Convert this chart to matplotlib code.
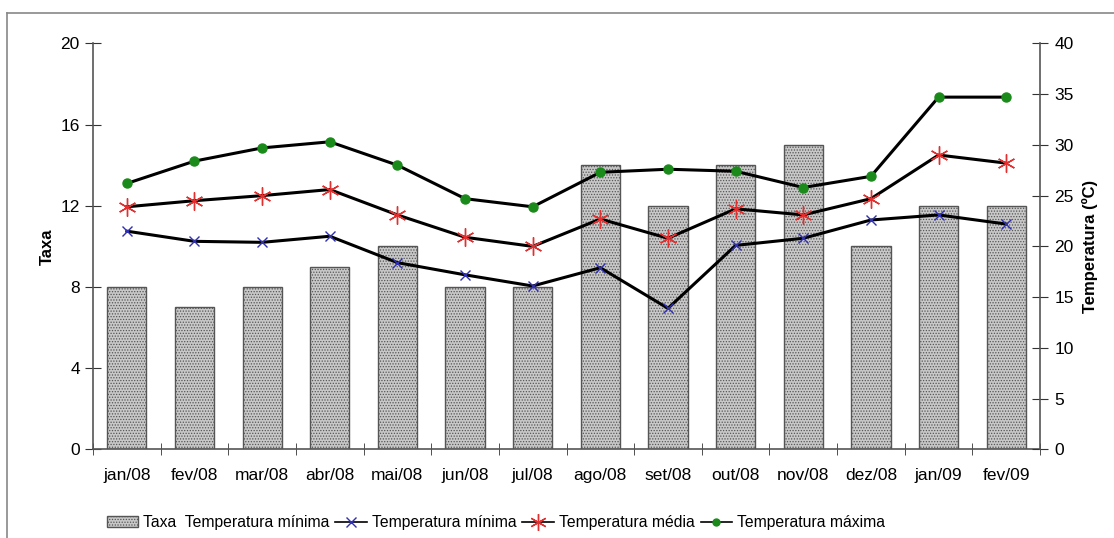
import matplotlib.pyplot as plt
import numpy as np
from matplotlib.lines import Line2D

# Data
meses = ["jan/08", "fev/08", "mar/08", "abr/08", "mai/08", "jun/08", "jul/08",
         "ago/08", "set/08", "out/08", "nov/08", "dez/08", "jan/09", "fev/09"]
taxa = [8, 7, 8, 9, 10, 8, 8, 14, 12, 14, 15, 10, 12, 12]
t_min = [21.5, 20.5, 20.4, 21.0, 18.4, 17.2, 16.1, 17.9, 13.9, 20.1, 20.8, 22.6, 23.1, 22.2]
t_med = [23.9, 24.5, 25.0, 25.6, 23.1, 20.9, 20.0, 22.7, 20.8, 23.7, 23.1, 24.7, 29.0, 28.2]
t_max = [26.2, 28.4, 29.7, 30.3, 28.0, 24.7, 23.9, 27.3, 27.6, 27.4, 25.8, 26.9, 34.7, 34.7]

plt.rcParams["font.family"] = ["Liberation Sans", "DejaVu Sans"]
plt.rcParams["hatch.color"] = "#8a8a8a"
plt.rcParams["hatch.linewidth"] = 0.6

fig = plt.figure(figsize=(11.14, 5.38), dpi=100)
ax = fig.add_axes([0.0835, 0.1645, 0.8501, 0.755])
ax2 = ax.twinx()

x = np.arange(len(meses))
bars = ax.bar(x, taxa, width=0.58, color="#c8c8c8", edgecolor="#555555",
              linewidth=1.0, hatch="......", zorder=1)

ax2.plot(x, t_min, color="black", lw=2.2, marker="x", ms=7, mec="#3030b0",
         mew=1.0, zorder=3)
ax2.plot(x, t_med, color="black", lw=2.2, marker=(6, 2, 0), ms=13, mec="#e03030",
         mew=1.0, zorder=3)
ax2.plot(x, t_max, color="black", lw=2.2, marker="o", ms=6.5, mfc="#1a8a1a",
         mec="#1a8a1a", zorder=3)

ax.set_xlim(-0.5, len(meses) - 0.5)
ax.set_ylim(0, 20)
ax2.set_ylim(0, 40)
ax.set_yticks(np.arange(0, 21, 4))
ax2.set_yticks(np.arange(0, 41, 5))
ax.set_xticks(x)
ax.set_xticklabels(meses)
ax.set_xticks(np.arange(-0.5, len(meses)), minor=True)

for a in (ax, ax2):
    a.spines["top"].set_visible(False)
    for s in a.spines.values():
        s.set_color("#555555")
        s.set_linewidth(1.2)
ax.spines["right"].set_visible(False)
ax2.spines["left"].set_visible(False)
ax2.spines["bottom"].set_visible(False)

ax.tick_params(axis="x", which="major", length=0, pad=13, labelsize=12.5)
ax.tick_params(axis="x", which="minor", direction="inout", length=9, color="#333333")
ax.tick_params(axis="y", direction="inout", length=11, color="#333333", labelsize=12.5, pad=4)
ax2.tick_params(axis="y", direction="inout", length=11, color="#333333", labelsize=12.5, pad=5)

ax.set_ylabel("Taxa", fontsize=12, fontweight="bold", labelpad=4)
ax2.set_ylabel("Temperatura (ºC)", fontsize=12, fontweight="bold", labelpad=6)

ax.set_zorder(ax2.get_zorder() - 1)
ax.patch.set_visible(True)
ax2.patch.set_visible(False)

handles = [bars,
           Line2D([], [], color="black", lw=1.2, marker="x", ms=7, mec="#3030b0"),
           Line2D([], [], color="black", lw=1.2, marker=(6, 2, 0), ms=12, mec="#e03030"),
           Line2D([], [], color="black", lw=1.2, marker="o", ms=5, mfc="#1a8a1a", mec="#1a8a1a")]
labels = ["Taxa  Temperatura mínima", "Temperatura mínima", "Temperatura média",
          "Temperatura máxima"]
fig.legend(handles, labels, loc="center", bbox_to_anchor=(0.445, 0.028), ncol=4,
           frameon=False, fontsize=11.3, handlelength=2.0, handletextpad=0.3,
           columnspacing=0.4)

# outer chart frame
fig.add_artist(Line2D([7 / 1114, 1.0], [1 - 13 / 538, 1 - 13 / 538],
                      transform=fig.transFigure, color="#888888", lw=1.2))
fig.add_artist(Line2D([7 / 1114, 7 / 1114], [0, 1 - 13 / 538],
                      transform=fig.transFigure, color="#888888", lw=1.2))

plt.savefig("out.png", dpi=100)
